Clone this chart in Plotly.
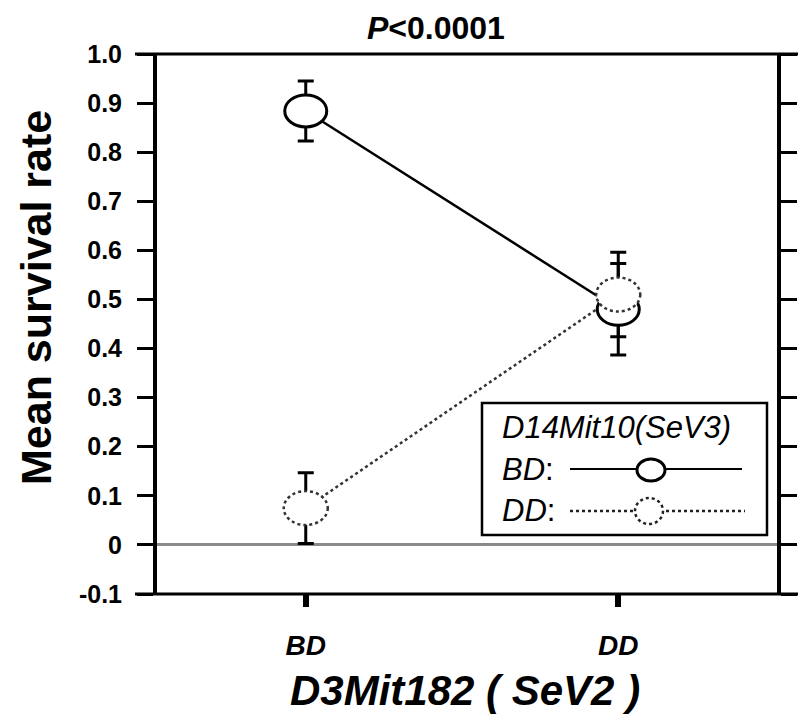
import plotly.graph_objects as go

# ---- data ----
categories = ["BD", "DD"]            # D3Mit182 (SeV2) genotype
x_pos = [0, 1]
bd_means = [0.884, 0.480]            # D14Mit10 = BD (solid)
bd_err = [0.061, 0.093]
dd_means = [0.075, 0.510]            # D14Mit10 = DD (dotted)
dd_err = [0.072, 0.086]
y_tickvals = [1.0, 0.9, 0.8, 0.7, 0.6, 0.5, 0.4, 0.3, 0.2, 0.1, 0.0, -0.1]
y_ticktext = ["1.0", "0.9", "0.8", "0.7", "0.6", "0.5", "0.4", "0.3", "0.2", "0.1", "0", "-0.1"]

FONT = "Liberation Sans, Arial, Helvetica, sans-serif"
W, H = 807, 728
OFF = 8  # page body margin
# target plot area in screen pixels: x 157..777, y 54..594
ML, MT = 157 - OFF, 54 - OFF
MR, MB = W - (777 - OFF), H - (594 - OFF)
PW, PH = W - ML - MR, H - MT - MB


def fx(px):
    return (px - OFF - ML) / PW


def fy(py):
    return (H - MB - (py - OFF)) / PH


fig = go.Figure()

fig.add_trace(go.Scatter(
    x=x_pos, y=bd_means, mode="lines",
    line=dict(color="black", width=2.5),
    error_y=dict(type="data", array=bd_err, color="black", thickness=3, width=8),
    showlegend=False, hoverinfo="skip"))

fig.add_trace(go.Scatter(
    x=x_pos, y=dd_means, mode="lines",
    line=dict(color="#333333", width=2.5, dash="dot"),
    error_y=dict(type="data", array=dd_err, color="black", thickness=3, width=8),
    showlegend=False, hoverinfo="skip"))

shapes = []
# ellipse markers at data points (pixel-sized, anchored in data coords)
for xv, yv in zip(x_pos, bd_means):
    shapes.append(dict(type="circle", xref="x", yref="y", xsizemode="pixel", ysizemode="pixel",
                       xanchor=xv, yanchor=yv, x0=-21, x1=21, y0=-16, y1=16,
                       fillcolor="white", line=dict(color="black", width=3), layer="above"))
for xv, yv in zip(x_pos, dd_means):
    shapes.append(dict(type="circle", xref="x", yref="y", xsizemode="pixel", ysizemode="pixel",
                       xanchor=xv, yanchor=yv, x0=-22, x1=22, y0=-17, y1=17,
                       fillcolor="white", line=dict(color="#333333", width=2.5, dash="dot"), layer="above"))

# top and bottom frame lines extending beyond the vertical axes
for yy in (1, 0):
    shapes.append(dict(type="line", xref="paper", yref="paper",
                       x0=fx(135), x1=fx(798), y0=yy, y1=yy,
                       line=dict(color="black", width=3), layer="above"))

# legend box
shapes.append(dict(type="rect", xref="paper", yref="paper",
                   x0=fx(482), x1=fx(767), y0=fy(535), y1=fy(403),
                   fillcolor="white", line=dict(color="black", width=2.5), layer="above"))
shapes.append(dict(type="line", xref="paper", yref="paper",
                   x0=fx(570), x1=fx(742), y0=fy(469), y1=fy(469),
                   line=dict(color="black", width=2), layer="above"))
shapes.append(dict(type="circle", xref="paper", yref="paper", xsizemode="pixel", ysizemode="pixel",
                   xanchor=fx(651), yanchor=fy(470), x0=-14, x1=14, y0=-11, y1=11,
                   fillcolor="white", line=dict(color="black", width=3), layer="above"))
shapes.append(dict(type="line", xref="paper", yref="paper",
                   x0=fx(570), x1=fx(745), y0=fy(511), y1=fy(511),
                   line=dict(color="#222222", width=2.5, dash="dot"), layer="above"))
shapes.append(dict(type="circle", xref="paper", yref="paper", xsizemode="pixel", ysizemode="pixel",
                   xanchor=fx(649), yanchor=fy(511), x0=-14, x1=14, y0=-13, y1=13,
                   fillcolor="white", line=dict(color="#222222", width=2.5, dash="dot"), layer="above"))

annotations = [
    dict(text="<b><i>P</i></b><b>&lt;0.0001</b>", xref="paper", yref="paper",
         x=fx(436), y=fy(28), xanchor="center", yanchor="middle", showarrow=False,
         font=dict(family=FONT, size=32, color="black")),
    dict(text="<b>Mean survival rate</b>", xref="paper", yref="paper",
         x=fx(36), y=fy(298), xanchor="center", yanchor="middle", textangle=-90, showarrow=False,
         font=dict(family=FONT, size=43, color="black")),
    dict(text="<b><i>D3Mit182 ( SeV2 )</i></b>", xref="paper", yref="paper",
         x=fx(465), y=fy(690), xanchor="center", yanchor="middle", showarrow=False,
         font=dict(family=FONT, size=42, color="black")),
    dict(text="<i>D14Mit10(SeV3)</i>", xref="paper", yref="paper",
         x=fx(500), y=fy(427), xanchor="left", yanchor="middle", showarrow=False,
         font=dict(family=FONT, size=31, color="black")),
    dict(text="<i>BD</i>:", xref="paper", yref="paper",
         x=fx(500), y=fy(469), xanchor="left", yanchor="middle", showarrow=False,
         font=dict(family=FONT, size=31, color="black")),
    dict(text="<i>DD</i>:", xref="paper", yref="paper",
         x=fx(500), y=fy(510), xanchor="left", yanchor="middle", showarrow=False,
         font=dict(family=FONT, size=31, color="black")),
]

fig.update_layout(
    width=W, height=H,
    margin=dict(l=ML, r=MR, t=MT, b=MB, autoexpand=False),
    paper_bgcolor="white", plot_bgcolor="white",
    shapes=shapes, annotations=annotations,
    xaxis=dict(range=[-0.476, 1.508], tickvals=x_pos,
               ticktext=["<b><i>%s</i></b>" % c for c in categories],
               showline=False, showgrid=False, zeroline=False,
               ticks="outside", ticklen=12, tickwidth=6, tickcolor="black",
               ticklabelstandoff=14,
               tickfont=dict(family=FONT, size=28, color="black")),
    yaxis=dict(range=[-0.1, 1.0], tickvals=y_tickvals,
               ticktext=["<b>%s</b>" % t for t in y_ticktext],
               showline=True, linewidth=4, linecolor="black", mirror="ticks",
               showgrid=False, zeroline=True, zerolinecolor="#8a8a8a", zerolinewidth=3,
               ticks="outside", ticklen=16, tickwidth=3, tickcolor="black",
               ticklabelstandoff=10,
               tickfont=dict(family=FONT, size=25, color="black")),
)

fig.write_html("out.html")
